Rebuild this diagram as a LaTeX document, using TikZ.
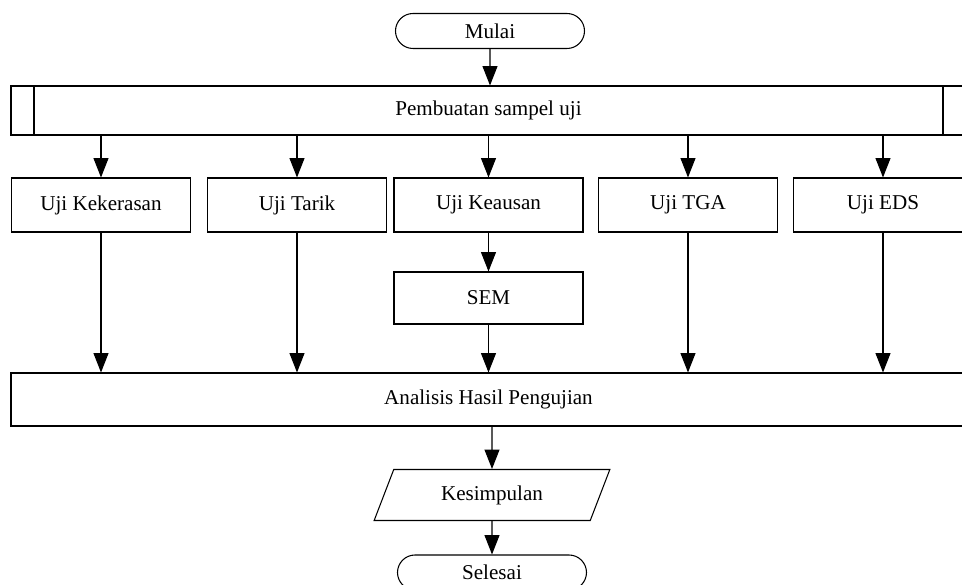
\documentclass[tikz,border=0pt]{standalone}
\usepackage{fontspec}
\setmainfont{Liberation Serif}
\usetikzlibrary{arrows.meta,shapes.misc,shapes.geometric}

\begin{document}
\begin{tikzpicture}[line width=0.6pt,
    terminal/.style={draw,rounded rectangle,minimum width=3.78cm,minimum height=0.70cm,inner sep=0pt},
    subproc/.style={draw,rectangle,minimum width=19.1cm,minimum height=0.98cm,inner sep=0pt,
      path picture={\draw[line width=0.6pt]
        ([xshift=0.46cm]path picture bounding box.north west) -- ([xshift=0.46cm]path picture bounding box.south west)
        ([xshift=-0.46cm]path picture bounding box.north east) -- ([xshift=-0.46cm]path picture bounding box.south east);}},
    testbox/.style={draw,rectangle,minimum width=3.58cm,minimum height=1.08cm,inner sep=0pt},
    widebox/.style={draw,rectangle,minimum width=19.1cm,minimum height=1.06cm,inner sep=0pt},
    iobox/.style={draw,trapezium,trapezium left angle=62,trapezium right angle=118,
      trapezium stretches=true,minimum width=4.74cm,minimum height=1.02cm,inner sep=0pt}]
      \useasboundingbox (0,0) rectangle (19.24,-11.70);
      \draw[align=center,font=\fontsize{12}{14}\selectfont]
        (9.80, -0.62) node[terminal] (mulai){Mulai}
        (9.77, -2.21) node[subproc] (pembuatan){Pembuatan sampel uji}
        (2.02, -4.10) node[testbox] (kekerasan){Uji Kekerasan}
        (5.94, -4.10) node[testbox] (tarik){Uji Tarik}
        (9.77, -4.10) node[testbox,minimum width=3.78cm] (keausan){Uji Keausan}
        (13.76, -4.10) node[testbox] (tga){Uji TGA}
        (17.66, -4.10) node[testbox] (eds){Uji EDS}
        (9.77, -5.96) node[testbox,minimum width=3.78cm,minimum height=1.04cm] (sem){SEM}
        (9.77, -7.99) node[widebox] (analisis){Analisis Hasil Pengujian}
        (9.84, -9.90) node[iobox] (kesimpulan){Kesimpulan}
        (9.84, -11.45) node[terminal] (selesai){Selesai};
      \begin{scope}[-{Triangle[length=11pt,width=8.5pt]}]
        \draw (mulai) to (mulai.south |- pembuatan.north);
        \draw (pembuatan.south -| kekerasan) to (kekerasan);
        \draw (pembuatan.south -| tarik) to (tarik);
        \draw (pembuatan.south -| keausan) to (keausan);
        \draw (pembuatan.south -| tga) to (tga);
        \draw (pembuatan.south -| eds) to (eds);
        \draw (kekerasan) to (analisis.north -| kekerasan);
        \draw (tarik) to (analisis.north -| tarik);
        \draw (keausan) to (sem);
        \draw (sem) to (analisis.north -| sem);
        \draw (tga) to (analisis.north -| tga);
        \draw (eds) to (analisis.north -| eds);
        \draw (analisis.south -| kesimpulan) to (kesimpulan);
        \draw (kesimpulan) to (selesai);
      \end{scope}
    \end{tikzpicture}
\end{document}
